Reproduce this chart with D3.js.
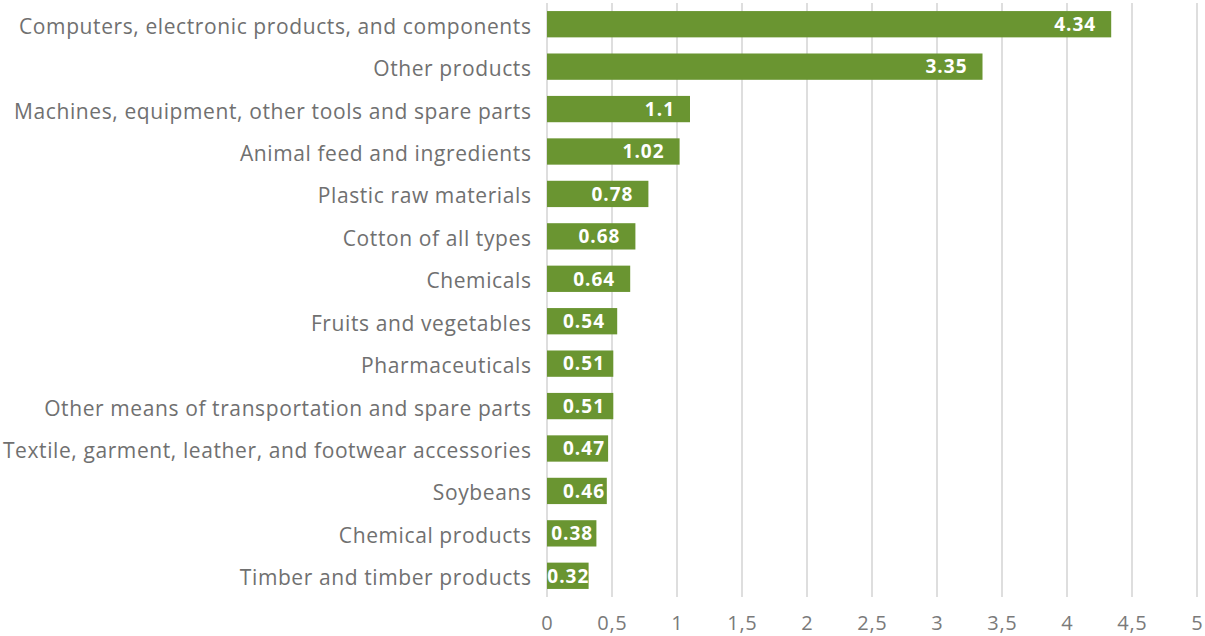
<!DOCTYPE html>
<html>
<head>
<meta charset="utf-8">
<script src="https://cdn.jsdelivr.net/npm/d3@7"></script>
<style>
  html, body { margin: 0; padding: 0; background: #fff; }
  svg { display: block; }
  text { font-family: "Open Sans", Lato, sans-serif; }
</style>
</head>
<body>
<svg id="chart" width="1205" height="636"></svg>
<script>
// Categories, top to bottom
const categories = [
  "Computers, electronic products, and components",
  "Other products",
  "Machines, equipment, other tools and spare parts",
  "Animal feed and ingredients",
  "Plastic raw materials",
  "Cotton of all types",
  "Chemicals",
  "Fruits and vegetables",
  "Pharmaceuticals",
  "Other means of transportation and spare parts",
  "Textile, garment, leather, and footwear accessories",
  "Soybeans",
  "Chemical products",
  "Timber and timber products"
];
// Values for each category
const values = [4.34, 3.35, 1.1, 1.02, 0.78, 0.68, 0.64, 0.54, 0.51, 0.51, 0.47, 0.46, 0.38, 0.32];
// Axis ticks
const ticks = [0, 0.5, 1, 1.5, 2, 2.5, 3, 3.5, 4, 4.5, 5];

const svg = d3.select("#chart");
const x0 = 547, x1 = 1197, yTop = 3, yBottom = 597;

const x = d3.scaleLinear().domain([0, 5]).range([x0, x1]);
const y = d3.scaleBand().domain(categories).range([yTop, yBottom])
  .paddingInner(0.38).paddingOuter(0.19);
const mid = c => y(c) + y.bandwidth() / 2;

// Vertical gridlines
svg.append("g").selectAll("line").data(ticks).join("line")
  .attr("x1", d => x(d)).attr("x2", d => x(d))
  .attr("y1", yTop).attr("y2", yBottom)
  .attr("stroke", "#dedede").attr("stroke-width", 2);

// Tick labels with comma decimal separator
svg.append("g").selectAll("text").data(ticks).join("text")
  .attr("x", d => x(d) + 0.3).attr("y", 630)
  .attr("text-anchor", "middle")
  .attr("fill", "#7a7a7a").attr("font-size", 20)
  .attr("letter-spacing", 0.6)
  .text(d => String(d).replace(".", ","));

const data = categories.map((c, i) => ({ c, v: values[i] }));

// Bars
svg.append("g").selectAll("rect").data(data).join("rect")
  .attr("x", x(0)).attr("y", d => y(d.c))
  .attr("width", d => x(d.v) - x(0))
  .attr("height", y.bandwidth())
  .attr("fill", "#6a9531");

// Category labels
svg.append("g").selectAll("text").data(data).join("text")
  .attr("x", x0 - 15.5).attr("y", d => mid(d.c) + 9.5)
  .attr("text-anchor", "end")
  .attr("fill", "#707070").attr("font-size", 21)
  .attr("letter-spacing", 0.6)
  .text(d => d.c);

// Value labels inside the bar end; short bars get the label centred
svg.append("g").selectAll("text").data(data).join("text")
  .attr("y", d => mid(d.c) + 6.8)
  .attr("fill", "#fff").attr("font-size", 19).attr("font-weight", "bold")
  .attr("letter-spacing", 1)
  .text(d => d.v)
  .each(function(d) {
    const w = this.getComputedTextLength() - 1;
    const start = x(0), end = x(d.v);
    let tx = end - 16 - w;
    if (tx < start + 16) tx = start + 16;
    if (tx + w > end + 0.5) tx = Math.max(start, start + (end - start - w) / 2);
    d3.select(this).attr("x", tx);
  });
</script>
</body>
</html>
